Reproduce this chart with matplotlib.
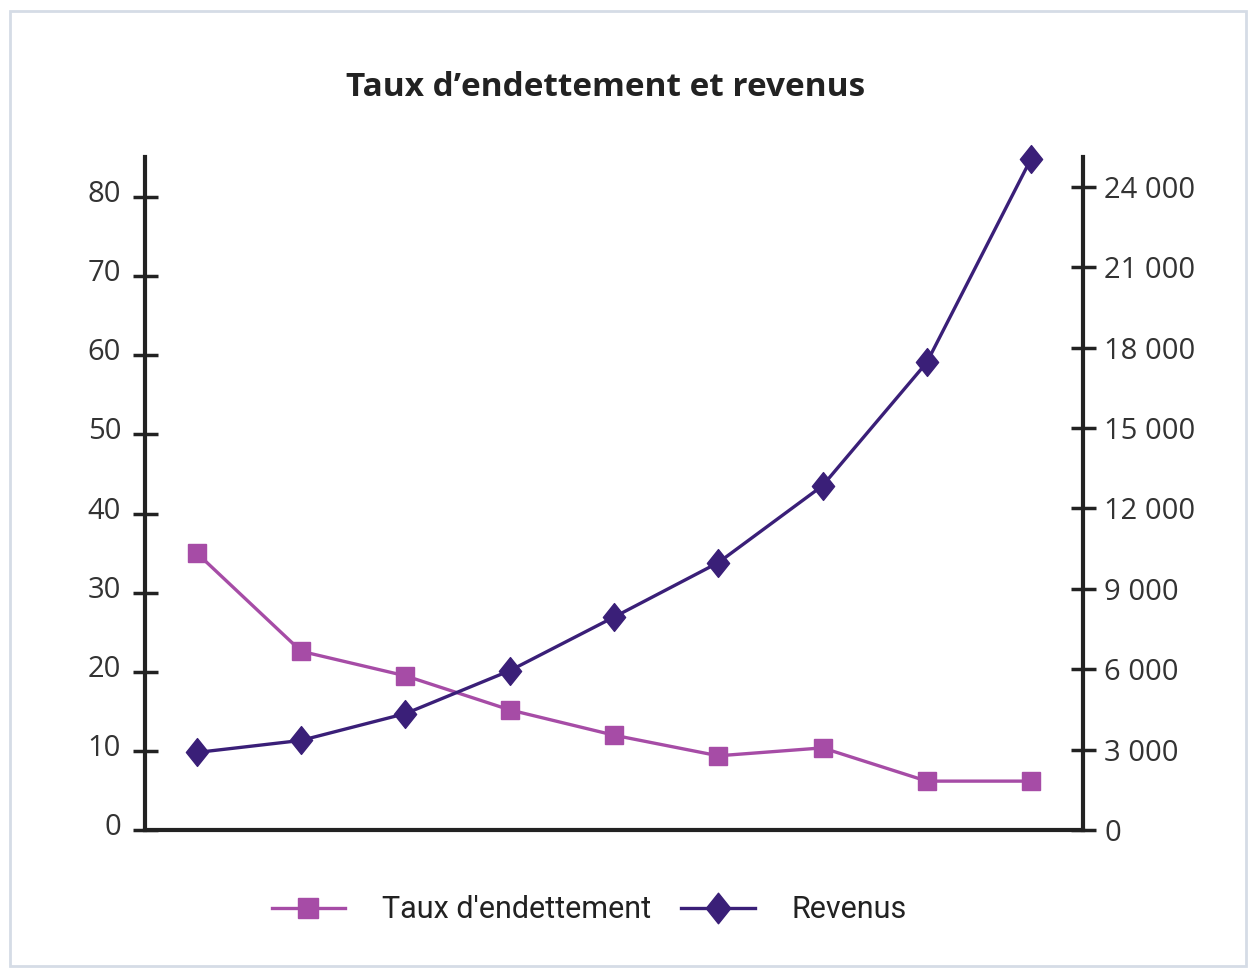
import numpy as np
import matplotlib
matplotlib.use("Agg")
import matplotlib.pyplot as plt
from matplotlib.ticker import FuncFormatter, MultipleLocator
from matplotlib.patches import Rectangle
from matplotlib.path import Path
from matplotlib.transforms import ScaledTranslation

# values
points = list(range(9))
taux = [35.0, 22.6, 19.5, 15.2, 12.0, 9.4, 10.4, 6.2, 6.2]
revenus = [2900, 3350, 4350, 5950, 7950, 9980, 12850, 17450, 25050]

title = "Taux d\u2019endettement et revenus"
label_taux = "Taux d'endettement"
label_rev = "Revenus"

pink = "#a64ca6"
navy = "#3a1f78"
txt = "#333333"

plt.rcParams['font.family'] = ['Open Sans', 'DejaVu Sans']

# slightly tall diamond like the original
diamond = Path([(0, 1), (0.8, 0), (0, -1), (-0.8, 0), (0, 1)],
               [Path.MOVETO, Path.LINETO, Path.LINETO, Path.LINETO, Path.CLOSEPOLY])

fig = plt.figure(figsize=(12.48, 9.71), dpi=100)
# light frame around the whole chart
fig.patches.append(Rectangle((0.008, 0.005), 0.99, 0.984, transform=fig.transFigure,
                             fill=False, edgecolor="#d5dce6", linewidth=2))

ax = fig.add_axes([0.116, 0.145, 0.752, 0.693])
ax2 = ax.twinx()

l1, = ax.plot(points, taux, color=pink, marker="s", markersize=13, linewidth=2.4,
              label=label_taux, clip_on=False)
l2, = ax2.plot(points, revenus, color=navy, marker=diamond, markersize=20, linewidth=2.4,
               label=label_rev, clip_on=False)

ax.set_xlim(-0.5, 8.5)
ax.set_ylim(0, 85)
ax2.set_ylim(0, 25100)
ax.set_xticks([])

ax.yaxis.set_major_locator(MultipleLocator(10))
ax2.yaxis.set_major_locator(MultipleLocator(3000))
ax2.yaxis.set_major_formatter(FuncFormatter(lambda v, p: f"{int(v):,}".replace(",", " ")))

for a in (ax, ax2):
    a.spines["top"].set_visible(False)
    for s in a.spines.values():
        s.set_linewidth(3)
        s.set_color("#222222")
ax.spines["right"].set_visible(False)
ax2.spines["left"].set_visible(False)
ax2.spines["bottom"].set_visible(False)

ax.tick_params(axis="y", direction="inout", length=18, width=2.5, colors="#222222",
               labelsize=21, labelcolor=txt, pad=8)
ax2.tick_params(axis="y", direction="inout", length=18, width=2.5, colors="#222222",
                labelsize=21, labelcolor=txt, pad=6)

# left labels sit a little above their tick
up = ScaledTranslation(0, 6 / 100, fig.dpi_scale_trans)
for tick in ax.yaxis.get_major_ticks():
    tick.label1.set_transform(tick.label1.get_transform() + up)

fig.text(0.485, 0.91, title, ha="center", va="center", fontsize=24,
         fontweight="bold", color="#222222")

leg = fig.legend(handles=[l1, l2], loc="center", bbox_to_anchor=(0.472, 0.063), ncol=2,
                 frameon=False, handlelength=2.4, columnspacing=1.0, handletextpad=1.2,
                 markerscale=1.1,
                 prop={'family': ['Roboto', 'DejaVu Sans'], 'size': 22})
for t in leg.get_texts():
    t.set_color("#222222")

fig.savefig("out.png", dpi=100)
